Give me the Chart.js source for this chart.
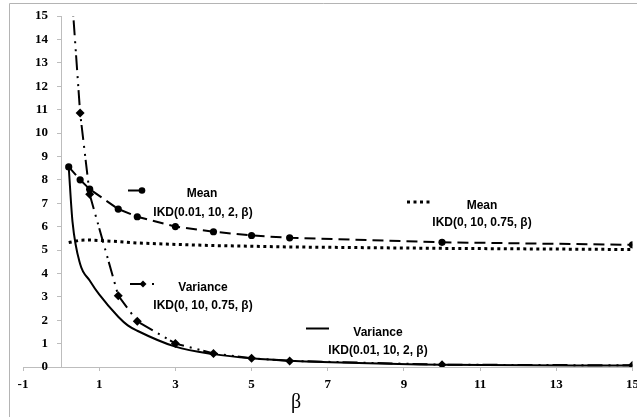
<!DOCTYPE html>
<html>
<head>
<meta charset="utf-8">
<script src="https://cdn.jsdelivr.net/npm/chart.js@4.4.0/dist/chart.umd.min.js"></script>
<style>
  html, body { margin: 0; padding: 0; background: #fff; }
  canvas { display: block; }
</style>
</head>
<body>
<canvas id="ikdChart" width="637" height="417"></canvas>
<script>
// beta values used for the plotted curves
const betas = [0.2, 0.5, 0.75, 1.5, 2, 3, 4, 5, 6, 10, 15];
const meanA = [8.55, 8.0, 7.6, 6.75, 6.42, 6.0, 5.78, 5.62, 5.52, 5.33, 5.22];       // Mean IKD(0.01, 10, 2, β)
const varB = [17.8, 10.85, 7.38, 3.05, 1.95, 1.0, 0.58, 0.37, 0.26, 0.1, 0.07];      // Variance IKD(0, 10, 0.75, β)
const meanB = [5.32, 5.42, 5.43, 5.36, 5.3, 5.24, 5.19, 5.16, 5.13, 5.07, 5.02];     // Mean IKD(0, 10, 0.75, β)
const betasVarA = [0.2, 0.3, 0.5, 0.75, 1, 1.5, 1.75, 2, 3, 4, 5, 6, 10, 15];
const varA = [8.55, 6.2, 4.4, 3.7, 3.1, 2.15, 1.78, 1.55, 0.87, 0.55, 0.37, 0.27, 0.1, 0.06]; // Variance IKD(0.01, 10, 2, β)

const xTicks = [-1, 1, 3, 5, 7, 9, 11, 13, 15];
const yTicks = [0, 1, 2, 3, 4, 5, 6, 7, 8, 9, 10, 11, 12, 13, 14, 15];

const dashMean = [11, 6];
const dashVar = [15, 6, 2, 6, 2, 4];
const dashDot = [3, 3.5];

const toPoints = (xs, ys) => xs.map((x, i) => ({ x: x, y: ys[i] }));

const axisGray = '#bdbdbd';
const tickFont = { family: 'Liberation Serif', weight: 'bold', size: 13 };

// in-plot legend notes, drawn like the original
const notesPlugin = {
  id: 'notes',
  beforeDraw(chart) {
    const c = chart.ctx;
    c.save();
    c.strokeStyle = '#b4b4b4';
    c.lineWidth = 1;
    c.beginPath();
    c.moveTo(9.5, 417);
    c.lineTo(9.5, 3.5);
    c.lineTo(637, 3.5);
    c.stroke();
    c.restore();
  },
  afterDraw(chart) {
    const c = chart.ctx;
    c.save();
    c.fillStyle = '#000';
    c.textAlign = 'center';
    c.textBaseline = 'middle';
    c.font = 'bold 12px "Liberation Sans"';
    const labels = [
      ['Mean', 202, 194], ['IKD(0.01, 10, 2, β)', 203, 213],
      ['Mean', 482, 206], ['IKD(0, 10, 0.75, β)', 482, 223],
      ['Variance', 203, 288], ['IKD(0, 10, 0.75, β)', 203, 306],
      ['Variance', 378, 333], ['IKD(0.01, 10, 2, β)', 378, 351]
    ];
    labels.forEach(([t, x, y]) => c.fillText(t, x, y));

    // axis title
    c.font = '20px "Liberation Serif"';
    c.fillText('β', 296, 403);

    // line samples
    c.strokeStyle = '#000';
    c.lineWidth = 2;
    c.beginPath(); c.moveTo(128, 190.5); c.lineTo(142, 190.5); c.stroke();
    c.beginPath(); c.arc(142, 190.5, 3.3, 0, Math.PI * 2); c.fill();

    c.setLineDash(dashDot);
    c.lineWidth = 3;
    c.beginPath(); c.moveTo(407, 202); c.lineTo(432, 202); c.stroke();
    c.setLineDash([]);

    c.lineWidth = 2;
    c.beginPath(); c.moveTo(130, 284); c.lineTo(143, 284); c.stroke();
    c.beginPath();
    c.moveTo(143, 280.5); c.lineTo(146.5, 284); c.lineTo(143, 287.5); c.lineTo(139.5, 284);
    c.closePath(); c.fill();
    c.fillRect(152, 283, 2, 2);

    c.beginPath(); c.moveTo(306, 328.5); c.lineTo(329, 328.5); c.stroke();
    c.restore();
  }
};

const ctx = document.getElementById('ikdChart').getContext('2d');
new Chart(ctx, {
  type: 'line',
  data: {
    datasets: [
      {
        label: 'Variance IKD(0.01, 10, 2, β)',
        data: toPoints(betasVarA, varA),
        borderColor: '#000',
        borderWidth: 2,
        pointRadius: 0,
        cubicInterpolationMode: 'monotone'
      },
      {
        label: 'Variance IKD(0, 10, 0.75, β)',
        data: toPoints(betas, varB),
        borderColor: '#000',
        backgroundColor: '#000',
        borderWidth: 2,
        borderDash: dashVar,
        pointStyle: 'rectRot',
        pointRadius: 4.5,
        pointBorderWidth: 0
      },
      {
        label: 'Mean IKD(0, 10, 0.75, β)',
        data: toPoints(betas, meanB),
        borderColor: '#000',
        borderWidth: 3,
        borderDash: dashDot,
        pointRadius: 0
      },
      {
        label: 'Mean IKD(0.01, 10, 2, β)',
        data: toPoints(betas, meanA),
        borderColor: '#000',
        backgroundColor: '#000',
        borderWidth: 2,
        borderDash: dashMean,
        pointStyle: 'circle',
        pointRadius: 3.6,
        pointBorderWidth: 0
      }
    ]
  },
  options: {
    responsive: false,
    animation: false,
    layout: { padding: { left: 23, right: 4, top: 16, bottom: 0 } },
    plugins: {
      legend: { display: false },
      tooltip: { enabled: false }
    },
    scales: {
      x: {
        type: 'linear',
        min: -1,
        max: 15,
        position: 'bottom',
        afterBuildTicks: (s) => { s.ticks = xTicks.map(v => ({ value: v })); },
        afterFit: (s) => { s.paddingLeft = 0; s.paddingRight = 0; s.height = 50; },
        grid: { drawOnChartArea: false, drawTicks: true, tickLength: 4, color: axisGray },
        border: { color: axisGray, width: 1 },
        ticks: { font: tickFont, color: '#000', padding: 6, maxRotation: 0, autoSkip: false }
      },
      y: {
        type: 'linear',
        min: 0,
        max: 15,
        position: { x: 0 },
        afterBuildTicks: (s) => { s.ticks = yTicks.map(v => ({ value: v })); },
        afterFit: (s) => { s.paddingTop = 0; s.paddingBottom = 0; },
        grid: { drawOnChartArea: false, drawTicks: true, tickLength: 4, color: axisGray },
        border: { color: axisGray, width: 1 },
        // labels sit right on the axis when it is placed at x = 0, so pad them with spaces
        ticks: { font: tickFont, color: '#000', autoSkip: false, callback: (v) => v + '    ' }
      }
    }
  },
  plugins: [notesPlugin]
});
</script>
</body>
</html>
